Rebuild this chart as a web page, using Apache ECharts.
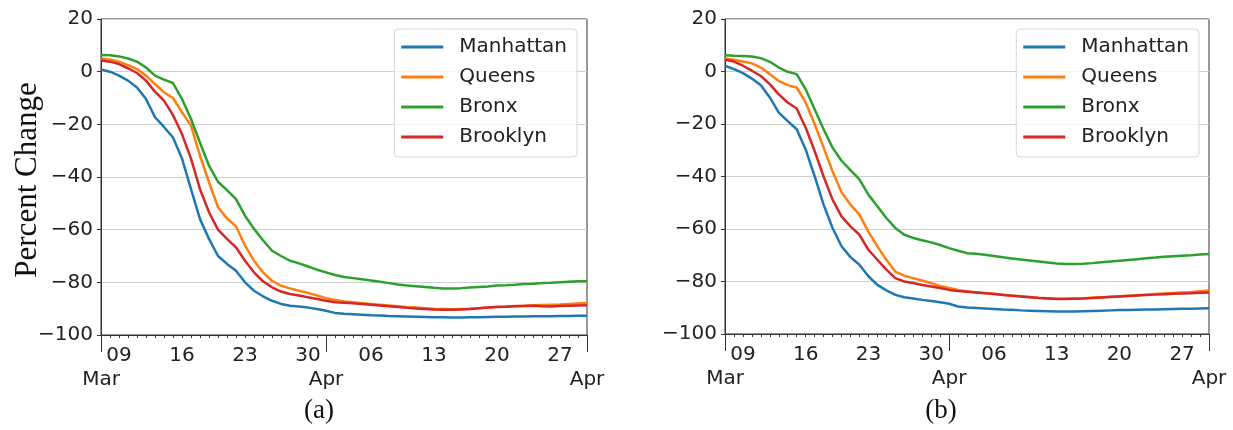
<!DOCTYPE html>
<html>
    <head>
        <meta charset="utf-8">
        <title>Percent Change</title>
        <script src="https://cdn.jsdelivr.net/npm/echarts@6/dist/echarts.min.js"></script>
        <style>
            html, body { margin: 0; padding: 0; background: #fff; }
            #chart1 { width: 1233px; height: 430px; }
        </style>
    </head>
    <body>
        <div id="chart1"></div>
    </body>
    <script type="text/javascript">
        // 日期 (Mar 07 .. Apr 30)
        var days = ['03-07','03-08','03-09','03-10','03-11','03-12','03-13','03-14','03-15','03-16',
                    '03-17','03-18','03-19','03-20','03-21','03-22','03-23','03-24','03-25','03-26',
                    '03-27','03-28','03-29','03-30','03-31','04-01','04-02','04-03','04-04','04-05',
                    '04-06','04-07','04-08','04-09','04-10','04-11','04-12','04-13','04-14','04-15',
                    '04-16','04-17','04-18','04-19','04-20','04-21','04-22','04-23','04-24','04-25',
                    '04-26','04-27','04-28','04-29','04-30'];
        var weekTicks = ['03-09','03-16','03-23','03-30','04-06','04-13','04-20','04-27'];
        var monthTicks = ['03-07','04-01','04-30'];
        var monthLabels = ['Mar','Apr','Apr'];
        var boroughs = ['Manhattan','Queens','Bronx','Brooklyn'];
        var colors = ['#1f77b4','#ff7f0e','#2ca02c','#d62728'];
        var yTicks = [-100, -80, -60, -40, -20, 0, 20];
        var yTitle = 'Percent Change';
        var captions = ['(a)', '(b)'];

        // (a)
        var manhattanA = [0.8,0,-1.5,-3.4,-6,-10.4,-17.3,-21,-25,-33,-44.6,-56,-63.5,-70,-73,-75.6,-80,-83.2,-85.3,-87,
                          -88.2,-88.9,-89.2,-89.6,-90.1,-90.8,-91.6,-91.9,-92.1,-92.3,-92.5,-92.6,-92.8,-92.9,-93.0,-93.1,-93.2,-93.3,-93.3,-93.4,
                          -93.4,-93.3,-93.3,-93.2,-93.1,-93.1,-93.0,-93.0,-92.9,-92.9,-92.9,-92.8,-92.8,-92.7,-92.7];
        var queensA = [5,4.6,3.8,2.5,1,-1.5,-4.7,-7.8,-10,-15.4,-20.5,-32,-42,-51.5,-55.7,-58.7,-66,-71.8,-76.2,-79.4,
                       -81.3,-82.3,-83.2,-84,-85,-86,-86.7,-87.3,-87.6,-87.9,-88.2,-88.5,-88.8,-89.1,-89.4,-89.6,-89.8,-90.0,-90.1,-90.2,
                       -90.1,-90.0,-89.8,-89.6,-89.3,-89.2,-89.0,-88.9,-88.7,-88.6,-88.5,-88.4,-88.2,-88.0,-87.8];
        var bronxA = [6.3,6.2,5.8,5,3.8,1.6,-1.5,-3,-4.3,-10.4,-18,-27,-35.7,-41.8,-45,-48.4,-54.7,-59.7,-64,-68,
                      -70,-71.8,-72.8,-74,-75.2,-76.2,-77.2,-78,-78.4,-78.8,-79.3,-79.8,-80.3,-80.8,-81.2,-81.5,-81.8,-82.1,-82.3,-82.3,
                      -82.2,-82.0,-81.8,-81.6,-81.2,-81.1,-80.9,-80.6,-80.5,-80.3,-80.2,-80.0,-79.8,-79.6,-79.6];
        var brooklynA = [4.2,3.8,2.9,1.3,-0.5,-3.4,-7.6,-11,-16.5,-23.7,-33,-44.6,-53.4,-60,-63.5,-66.7,-71.8,-76.2,-79.6,-81.9,
                         -83.5,-84.4,-85,-85.7,-86.3,-87,-87.6,-87.8,-87.9,-88.2,-88.5,-88.8,-89.1,-89.4,-89.7,-89.9,-90.1,-90.3,-90.4,-90.4,
                         -90.3,-90.1,-89.8,-89.6,-89.4,-89.3,-89.1,-89.0,-88.9,-89.1,-89.2,-89.0,-88.9,-88.8,-88.7];

        // (b)
        var manhattanB = [2.2,0.9,-0.6,-2.7,-5.2,-9.9,-15.7,-18.9,-22,-29.7,-39.9,-50.7,-59.6,-66.6,-70.7,-73.6,-78,-81.3,-83.4,-85.1,
                          -86,-86.5,-87,-87.4,-87.9,-88.5,-89.5,-89.9,-90.1,-90.3,-90.5,-90.7,-90.8,-91.0,-91.1,-91.2,-91.3,-91.4,-91.4,-91.4,
                          -91.3,-91.2,-91.1,-91.0,-90.9,-90.9,-90.8,-90.7,-90.7,-90.6,-90.5,-90.4,-90.4,-90.3,-90.2];
        var queensB = [5,4.5,3.8,3.1,1.5,-1,-3.6,-5.2,-6.1,-11.8,-20,-29,-38,-46,-50.7,-54.5,-61,-66.6,-71.7,-76.2,
                       -77.8,-78.7,-79.6,-80.6,-81.7,-82.5,-83.2,-83.8,-84.1,-84.4,-84.7,-85.0,-85.3,-85.6,-85.9,-86.2,-86.4,-86.6,-86.6,-86.5,
                       -86.4,-86.2,-86.0,-85.8,-85.6,-85.4,-85.2,-85.0,-84.8,-84.6,-84.4,-84.2,-84.0,-83.7,-83.4];
        var bronxB = [6.2,6,5.9,5.7,5.1,3.7,1.5,-0.1,-1,-6.8,-14.4,-22,-29,-34,-37.6,-41.1,-46.9,-51.3,-55.8,-59.6,
                      -62.2,-63.4,-64.3,-65.1,-66.1,-67.3,-68.3,-69.2,-69.4,-69.8,-70.3,-70.8,-71.2,-71.6,-72.0,-72.4,-72.8,-73.1,-73.3,-73.3,
                      -73.2,-73.0,-72.7,-72.4,-72.1,-71.8,-71.5,-71.1,-70.9,-70.6,-70.4,-70.2,-70.0,-69.7,-69.5];
        var brooklynB = [4.5,3.8,2.2,0.3,-1.7,-4.8,-8.7,-11.8,-14.1,-21.4,-30.3,-40,-48.8,-55.2,-59,-62.2,-67.9,-71.7,-75.5,-78.7,
                         -80,-80.6,-81.3,-81.9,-82.5,-83.2,-83.6,-83.9,-84.2,-84.5,-84.8,-85.1,-85.4,-85.7,-86.0,-86.3,-86.5,-86.7,-86.7,-86.6,
                         -86.5,-86.3,-86.1,-85.9,-85.7,-85.5,-85.3,-85.1,-85.0,-84.9,-84.7,-84.6,-84.5,-84.3,-84.2];

        var panels = [
            [manhattanA, queensA, bronxA, brooklynA],
            [manhattanB, queensB, bronxB, brooklynB]
        ];

        var sansFont = 'DejaVu Sans';
        var textColor = '#222';

        var grids = [
            {left: 101, right: 646, top: 19, bottom: 95},
            {left: 725, right: 24, top: 19, bottom: 96}
        ];

        function minusFmt(v) {
            return v < 0 ? '\u2212' + (-v) : String(v);
        }

        var xAxes = [], yAxes = [], series = [], legends = [], graphics = [];
        grids.forEach(function (g, p) {
            g.show = true;
            g.borderColor = '#333';
            g.borderWidth = 1;
            g.containLabel = false;

            // 日刻度 + 周标签
            xAxes.push({
                type: 'category', gridIndex: p, data: days, boundaryGap: false, position: 'bottom',
                axisLine: {onZero: false, lineStyle: {color: '#333', width: 1}},
                axisTick: {show: true, interval: 0, length: 3, lineStyle: {color: '#333'}},
                axisLabel: {
                    interval: function (idx, val) { return weekTicks.indexOf(val) >= 0; },
                    formatter: function (val) { return val.slice(3); },
                    margin: 11, fontFamily: sansFont, fontSize: 20, color: textColor
                },
                splitLine: {show: false}
            });
            // 月份长刻度 + 月份标签
            xAxes.push({
                type: 'category', gridIndex: p, data: days, boundaryGap: false, position: 'bottom',
                axisLine: {show: false, onZero: false},
                axisTick: {
                    show: true, length: 17, lineStyle: {color: '#333'},
                    interval: function (idx, val) { return monthTicks.indexOf(val) >= 0; }
                },
                axisLabel: {
                    interval: function (idx, val) { return monthTicks.indexOf(val) >= 0; },
                    formatter: function (val) { return monthLabels[monthTicks.indexOf(val)]; },
                    margin: 35, fontFamily: sansFont, fontSize: 20, color: textColor
                },
                splitLine: {show: false}
            });
            yAxes.push({
                type: 'value', gridIndex: p, min: yTicks[0], max: yTicks[yTicks.length - 1], interval: 20,
                axisLine: {show: true, lineStyle: {color: '#333'}},
                axisTick: {show: true, length: 4, lineStyle: {color: '#333'}},
                axisLabel: {formatter: minusFmt, margin: 8, fontFamily: sansFont, fontSize: 20, color: textColor},
                splitLine: {show: true, lineStyle: {color: '#cfcfcf', width: 1}}
            });
            boroughs.forEach(function (name, k) {
                series.push({
                    name: name, type: 'line', xAxisIndex: p * 2, yAxisIndex: p,
                    data: panels[p][k], symbol: 'none', showSymbol: false, smooth: false,
                    lineStyle: {width: 2.5, color: colors[k]}, itemStyle: {color: colors[k]},
                    z: 3
                });
            });
            legends.push({
                data: boroughs, orient: 'vertical', top: 29,
                right: p === 0 ? 656 : 34,
                icon: 'rect', itemWidth: 42, itemHeight: 3, itemGap: 10,
                padding: [8, 10, 10, 7],
                backgroundColor: 'rgba(255,255,255,0.8)',
                borderColor: '#d6d6d6', borderWidth: 1, borderRadius: 4,
                selectedMode: false,
                textStyle: {fontFamily: sansFont, fontSize: 20, lineHeight: 20, color: textColor, padding: [0, 0, 0, 11]}
            });
            graphics.push({
                type: 'text',
                x: p === 0 ? 319 : 941, y: 411,
                style: {
                    text: captions[p], font: '27px "Liberation Serif"', fill: '#111',
                    textAlign: 'center', textVerticalAlign: 'middle'
                }
            });
        });

        // y 轴标题
        graphics.push({
            type: 'text',
            x: 28, y: 180, rotation: Math.PI / 2,
            style: {
                text: yTitle, font: '31px "Liberation Serif"', fill: '#111',
                textAlign: 'center', textVerticalAlign: 'middle'
            }
        });

        var myChart1 = echarts.init(document.getElementById('chart1'), null, {renderer: 'canvas'});
        myChart1.setOption({
            animation: false,
            backgroundColor: '#fff',
            color: colors,
            grid: grids,
            xAxis: xAxes,
            yAxis: yAxes,
            legend: legends,
            series: series,
            graphic: graphics
        });
    </script>
</html>
